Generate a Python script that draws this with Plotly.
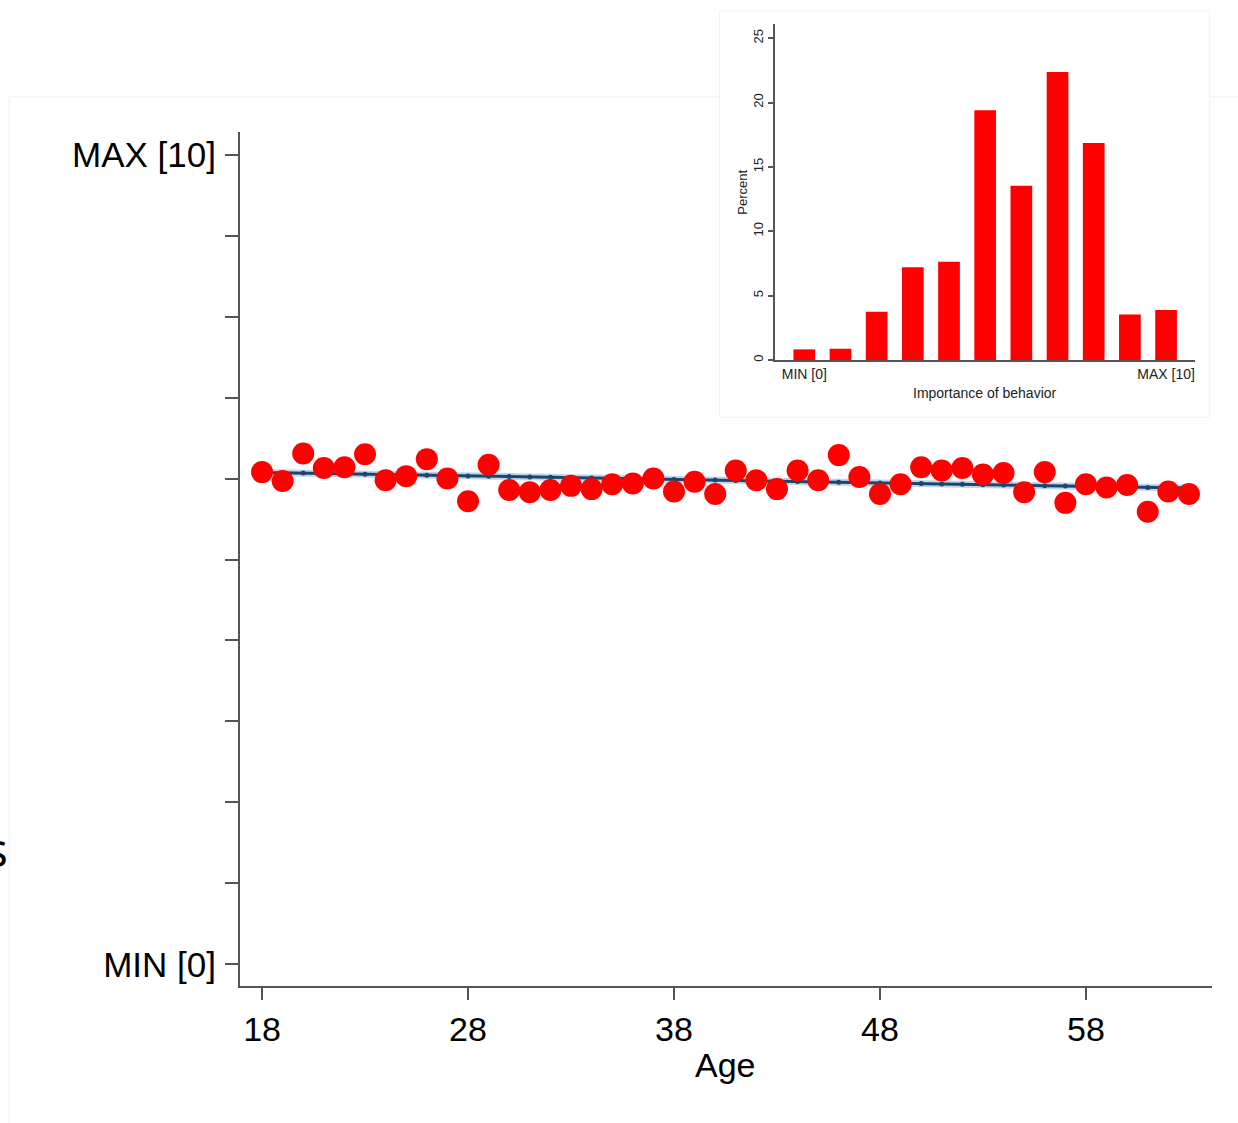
import numpy as np
import plotly.graph_objects as go

# ---------------- data ----------------
ages = list(range(18, 64))
importance = [6.08, 5.97, 6.31, 6.13, 6.14, 6.30, 5.98, 6.03, 6.24, 6.00,
              5.72, 6.17, 5.86, 5.83, 5.86, 5.91, 5.87, 5.93, 5.94, 6.00,
              5.84, 5.96, 5.81, 6.10, 5.98, 5.87, 6.10, 5.98, 6.29, 6.02,
              5.81, 5.93, 6.14, 6.10, 6.13, 6.05, 6.07, 5.83, 6.08, 5.70,
              5.93, 5.89, 5.92, 5.59, 5.84, 5.81]

hist_bins = list(range(0, 11))
hist_percent = [0.83, 0.88, 3.75, 7.21, 7.63, 19.41, 13.54, 22.38, 16.85, 3.54, 3.88]

x_ticks = [18, 28, 38, 48, 58]
y_ticks = list(range(0, 11))
y_ticktext = ["MIN [0]"] + [""] * 9 + ["MAX [10]"]
inset_x_ticktext = ["MIN [0]", "MAX [10]"]

# linear fit of the binned means (as in the original)
coef = np.polyfit(ages, importance, 1)
fit_vals = np.polyval(coef, ages)

# ---------------- layout helpers ----------------
W, H = 1238, 1123
ML, MR, MT, MB = 10, 10, 10, 10
PW, PH = W - ML - MR, H - MT - MB


def px(x):
    return (x - ML) / PW


def py(y):
    return (H - MB - y) / PH


FONT = "Arial, 'Liberation Sans', sans-serif"

fig = go.Figure()

# fit line halo + line
fig.add_trace(go.Scatter(x=ages, y=fit_vals, mode="lines",
                         line=dict(color="rgba(120,160,200,0.45)", width=7),
                         hoverinfo="skip", showlegend=False))
fig.add_trace(go.Scatter(x=ages, y=fit_vals, mode="lines+markers",
                         line=dict(color="#1a476f", width=3),
                         marker=dict(color="#1a476f", size=5),
                         showlegend=False))
# binned scatter
fig.add_trace(go.Scatter(x=ages, y=importance, mode="markers",
                         marker=dict(color="#ff0000", size=22, line=dict(width=0)),
                         showlegend=False))

# inset histogram
fig.add_trace(go.Bar(x=hist_bins, y=hist_percent, width=0.6,
                     marker=dict(color="#ff0000", line=dict(width=0)),
                     xaxis="x2", yaxis="y2", showlegend=False))

axis_line = "#555555"

fig.update_layout(
    width=W, height=H,
    margin=dict(l=ML, r=MR, t=MT, b=MB),
    paper_bgcolor="white", plot_bgcolor="rgba(0,0,0,0)",
    font=dict(family=FONT, color="black"),
    xaxis=dict(domain=[px(240), px(1212)], range=[16.93, 64.12],
               tickvals=x_ticks, ticktext=[str(t) for t in x_ticks],
               showgrid=False, zeroline=False,
               showline=True, linecolor=axis_line, linewidth=2,
               ticks="outside", ticklen=12, tickwidth=2, tickcolor=axis_line,
               tickfont=dict(size=34, color="black"), anchor="y"),
    yaxis=dict(domain=[py(988), py(132)], range=[-0.271, 10.284],
               tickvals=y_ticks, ticktext=y_ticktext,
               showgrid=False, zeroline=False,
               showline=True, linecolor=axis_line, linewidth=2,
               ticks="outside", ticklen=13, tickwidth=2, tickcolor=axis_line,
               ticklabelstandoff=2,
               tickfont=dict(size=35, color="black"), anchor="x"),
    xaxis2=dict(domain=[px(775), px(1195)], range=[-0.81, 10.8],
                tickvals=[0, 10], ticktext=inset_x_ticktext,
                showgrid=False, zeroline=False,
                showline=True, linecolor=axis_line, linewidth=1.5,
                ticks="", tickfont=dict(size=14, color="#222"),
                anchor="y2"),
    yaxis2=dict(domain=[py(360.7), py(24.3)], range=[0, 26.08],
                tickvals=[0, 5, 10, 15, 20, 25],
                showgrid=False, zeroline=False,
                showline=True, linecolor=axis_line, linewidth=1.5,
                ticks="outside", ticklen=5, tickwidth=1.5, tickcolor=axis_line,
                tickangle=-90, tickfont=dict(size=13, color="#222"),
                anchor="x2"),
    shapes=[
        dict(type="rect", xref="paper", yref="paper",
             x0=px(9), x1=px(1260), y0=py(1140), y1=py(97),
             line=dict(color="#f0f0f0", width=1), fillcolor="rgba(0,0,0,0)",
             layer="below"),
        dict(type="rect", xref="paper", yref="paper",
             x0=px(719.5), x1=px(1209.5), y0=py(418), y1=py(11),
             line=dict(color="#f3f3f3", width=1), fillcolor="white",
             layer="below"),
    ],
    annotations=[
        dict(text="Age", xref="paper", yref="paper", x=px(726), y=py(1067),
             xanchor="center", yanchor="middle", showarrow=False,
             font=dict(size=34, color="black")),
        dict(text="Percent", xref="paper", yref="paper", x=px(743), y=py(193),
             xanchor="center", yanchor="middle", showarrow=False, textangle=-90,
             font=dict(size=13, color="#222")),
        dict(text="Importance of behavior", xref="paper", yref="paper",
             x=px(985), y=py(394), xanchor="center", yanchor="middle",
             showarrow=False, font=dict(size=14, color="#222")),
        dict(text="s", xref="paper", yref="paper", x=px(10), y=py(850),
             xanchor="right", yanchor="middle", showarrow=False,
             font=dict(size=48, color="black", family="'Open Sans', sans-serif")),
    ],
)

fig.write_html("out.html")
